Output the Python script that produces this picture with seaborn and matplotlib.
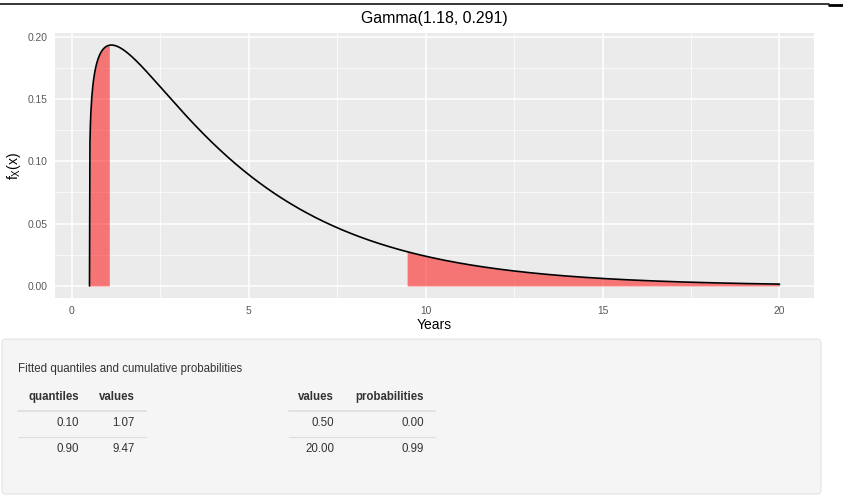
import math
import numpy as np
import pandas as pd
import matplotlib
matplotlib.use("Agg")
import matplotlib.pyplot as plt
from matplotlib.lines import Line2D
from matplotlib.patches import FancyBboxPatch
import seaborn as sns

# Fitted distribution: Gamma(shape, rate) on X - lower
shape = 1.18
rate = 0.291
lower = 0.5
upper = 20.0

# Fitted quantiles table
quantile_levels = [0.10, 0.90]
quantile_values = [1.07, 9.47]

# Cumulative probabilities table
prob_values = [0.50, 20.00]
prob_cumulative = [0.00, 0.99]

x_ticks = [0, 5, 10, 15, 20]
y_ticks = [0.00, 0.05, 0.10, 0.15, 0.20]

W, H = 843, 498
DPI = 100

sns.set_theme(style="darkgrid")
plt.rcParams["font.family"] = ["Liberation Sans", "DejaVu Sans"]
plt.rcParams["mathtext.fontset"] = "custom"
plt.rcParams["mathtext.rm"] = "Liberation Sans"
plt.rcParams["mathtext.it"] = "Liberation Sans"


def gamma_pdf(x, k, r, loc):
    z = np.clip(x - loc, 0, None)
    out = np.zeros_like(z)
    pos = z > 0
    out[pos] = np.exp(k * math.log(r) + (k - 1) * np.log(z[pos]) - r * z[pos] - math.lgamma(k))
    return out


xs = np.linspace(lower, upper, 1500)
df = pd.DataFrame({"x": xs, "density": gamma_pdf(xs, shape, rate, lower)})

fig = plt.figure(figsize=(W / DPI, H / DPI), dpi=DPI)
fig.patch.set_facecolor("white")


def fx(px):
    return px / W


def fy(py):
    return 1 - py / H


ax = fig.add_axes([fx(55), fy(298), fx(814) - fx(55), fy(33) - fy(298)])
ax.set_facecolor("#EBEBEB")

# shaded tails beyond the fitted quantiles
left = df[df["x"] <= quantile_values[0]]
right = df[df["x"] >= quantile_values[1]]
ax.fill_between(left["x"], 0, left["density"], color="red", alpha=0.5, linewidth=0, zorder=2)
ax.fill_between(right["x"], 0, right["density"], color="red", alpha=0.5, linewidth=0, zorder=2)

sns.lineplot(data=df, x="x", y="density", ax=ax, color="black", linewidth=1.2, zorder=3)

xr = upper - lower
ax.set_xlim(lower - 0.05 * xr, upper + 0.05 * xr)
ymax = df["density"].max()
ax.set_ylim(-0.05 * ymax, ymax * 1.05)

ax.set_xticks(x_ticks)
ax.set_yticks(y_ticks)
ax.set_xticklabels([str(t) for t in x_ticks])
ax.set_yticklabels([f"{t:.2f}" for t in y_ticks])
ax.set_xticks([2.5, 7.5, 12.5, 17.5], minor=True)
ax.set_yticks([0.025, 0.075, 0.125, 0.175], minor=True)
ax.grid(which="major", color="white", linewidth=1.1)
ax.grid(which="minor", color="white", linewidth=0.5)
ax.set_axisbelow(True)
for s in ax.spines.values():
    s.set_visible(False)
ax.tick_params(axis="both", which="major", length=3, width=0.8, color="#333333",
               labelsize=7.4, labelcolor="#595959", pad=2.5)
ax.tick_params(axis="both", which="minor", length=0)

ax.set_title("Gamma(1.18, 0.291)", fontsize=11.4, color="black", pad=7)
ax.set_xlabel("Years", fontsize=10, color="black", labelpad=2)
ax.set_ylabel(r"$\mathregular{f_X(x)}$", fontsize=10, color="black", labelpad=3)

# window rule along the top edge
fig.add_artist(Line2D([0, fx(829)], [fy(4.5), fy(4.5)], color="black", linewidth=1.1))
fig.add_artist(Line2D([fx(829), 1], [fy(5.5), fy(5.5)], color="black", linewidth=2.0))

# summary panel below the chart
box = FancyBboxPatch((fx(2), fy(494)), fx(821) - fx(2), fy(339) - fy(494),
                     boxstyle="round,pad=0,rounding_size=0.005",
                     mutation_aspect=W / H,
                     transform=fig.transFigure, facecolor="#F5F5F5",
                     edgecolor="#E3E3E3", linewidth=0.8)
fig.add_artist(box)

txt = "#333333"
fs = 8.3
fig.text(fx(18), fy(369), "Fitted quantiles and cumulative probabilities",
         fontsize=fs, color=txt, ha="left", va="center")

# left table: quantiles -> values
fig.text(fx(79), fy(397), "quantiles", fontsize=fs, weight="bold", color=txt, ha="right", va="center")
fig.text(fx(135), fy(397), "values", fontsize=fs, weight="bold", color=txt, ha="right", va="center")
fig.add_artist(Line2D([fx(18), fx(146)], [fy(411), fy(411)], color="#DDDDDD", linewidth=1.2))
row_y = [423, 449]
for i, (q, v) in enumerate(zip(quantile_levels, quantile_values)):
    fig.text(fx(79), fy(row_y[i]), f"{q:.2f}", fontsize=fs, color=txt, ha="right", va="center")
    fig.text(fx(135), fy(row_y[i]), f"{v:.2f}", fontsize=fs, color=txt, ha="right", va="center")
fig.add_artist(Line2D([fx(18), fx(146)], [fy(437), fy(437)], color="#DDDDDD", linewidth=0.8))

# right table: values -> cumulative probabilities
fig.text(fx(334), fy(397), "values", fontsize=fs, weight="bold", color=txt, ha="right", va="center")
fig.text(fx(424), fy(397), "probabilities", fontsize=fs, weight="bold", color=txt, ha="right", va="center")
fig.add_artist(Line2D([fx(289), fx(435)], [fy(411), fy(411)], color="#DDDDDD", linewidth=1.2))
for i, (v, p) in enumerate(zip(prob_values, prob_cumulative)):
    fig.text(fx(334), fy(row_y[i]), f"{v:.2f}", fontsize=fs, color=txt, ha="right", va="center")
    fig.text(fx(424), fy(row_y[i]), f"{p:.2f}", fontsize=fs, color=txt, ha="right", va="center")
fig.add_artist(Line2D([fx(289), fx(435)], [fy(437), fy(437)], color="#DDDDDD", linewidth=0.8))

fig.savefig("out.png", dpi=DPI)
